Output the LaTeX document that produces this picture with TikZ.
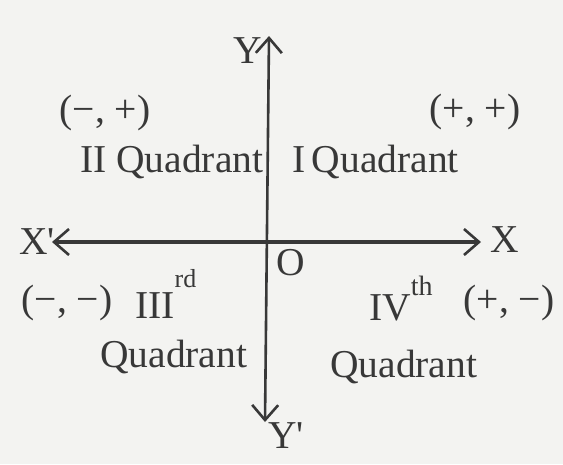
\documentclass[tikz,border=0pt]{standalone}
\usepackage{fontspec}
\setmainfont{Liberation Serif}
\usepackage{xcolor}
\usetikzlibrary{arrows.meta,positioning}

\definecolor{ink}{HTML}{383838}
\definecolor{paper}{HTML}{F3F3F1}

\begin{document}
\begin{tikzpicture}[x=1pt, y=-1pt,
  lab/.style={text=ink, inner sep=0pt, font=\fontsize{39.5}{41}\selectfont},
  sgn/.style={lab},
  axisline/.style={draw=ink, line width=3.4pt,
    {Straight Barb[length=15pt, width=26pt, line width=2.6pt]}-{Straight Barb[length=15pt, width=26pt, line width=2.6pt]}}]
% --- page ---
\fill[paper] (0,0) rectangle (563,464);
\useasboundingbox (0,0) rectangle (563,464);
% --- axes ---
\coordinate (xl) at (52,242);
\coordinate (xr) at (481,242);
\coordinate (yt) at (269,36);
\coordinate (yb) at (265,422);
\draw[axisline] (xl) -- (xr);
\draw[axisline, line width=2.6pt] (yb) -- (yt);
% --- axis names ---
\node[lab] (xn) at (37,242) {X\textquotesingle};
\node[lab] (xp) at (505,240) {X};
\node[lab] (yp) at (248,51) {Y};
\node[lab] (yn) at (286,436) {Y\textquotesingle};
\node[lab] (o) at (291,263) {O};
% --- signs ---
\node[sgn] (s2) at (105,113) {(−, +)};
\node[sgn] (s1) at (475,112) {(+, +)};
\node[sgn] (s3) at (67,303) {(−, −)};
\node[sgn] (s4) at (509,303) {(+, −)};
% --- quadrant names ---
\node[lab, anchor=base west] (q2) at (80,172) {II Quadrant};
\node[lab, anchor=base west] (q1) at (292,172) {I\,Quadrant};
\node[lab, anchor=base west] (q3) at (135,318) {III\raisebox{31pt}{\fontsize{26}{26}\selectfont rd}};
\node[lab, anchor=base west] (q3b) at (100,367) {Quadrant};
\node[lab, anchor=base west] (q4) at (369,320) {IV\raisebox{25pt}{\fontsize{28}{28}\selectfont th}};
\node[lab, anchor=base west] (q4b) at (330,377) {Quadrant};
\end{tikzpicture}
\end{document}
